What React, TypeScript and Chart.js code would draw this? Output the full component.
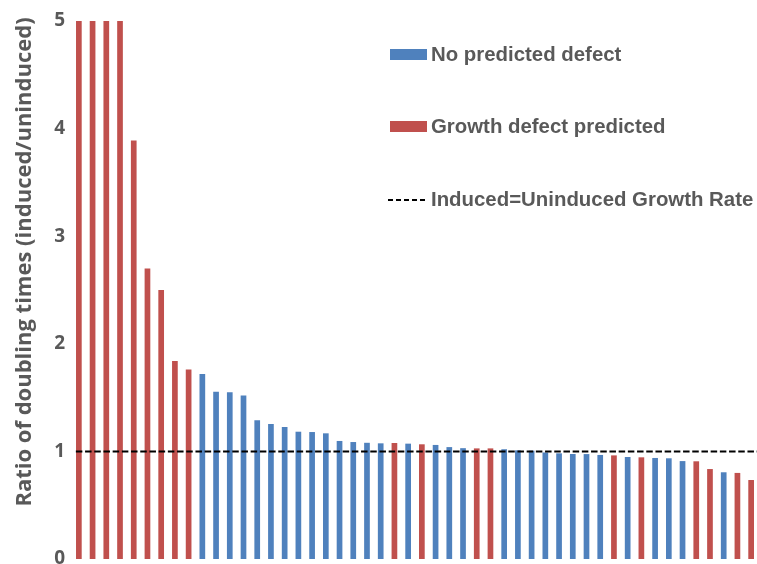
import React, { useEffect, useRef } from "react";
import { Chart, registerables } from "chart.js";

Chart.register(...registerables);

// ---- Data ----
const categories = [
  "1", "2", "3", "4", "5", "6", "7", "8", "9", "10",
  "11", "12", "13", "14", "15", "16", "17", "18", "19", "20",
  "21", "22", "23", "24", "25", "26", "27", "28", "29", "30",
  "31", "32", "33", "34", "35", "36", "37", "38", "39", "40",
  "41", "42", "43", "44", "45", "46", "47", "48", "49", "50",
];

const ratios = [
  5, 5, 5, 5, 3.89, 2.7, 2.5, 1.84, 1.76, 1.72,
  1.555, 1.55, 1.52, 1.29, 1.255, 1.227, 1.183, 1.18, 1.168, 1.097,
  1.087, 1.08, 1.075, 1.078, 1.072, 1.066, 1.06, 1.04, 1.03, 1.028,
  1.028, 1.02, 1.01, 1.007, 0.99, 0.982, 0.976, 0.975, 0.967, 0.963,
  0.948, 0.945, 0.939, 0.936, 0.91, 0.908, 0.836, 0.806, 0.8, 0.734,
];

// 1 = growth defect predicted, 0 = no predicted defect
const defectPredicted = [
  1, 1, 1, 1, 1, 1, 1, 1, 1, 0,
  0, 0, 0, 0, 0, 0, 0, 0, 0, 0,
  0, 0, 0, 1, 0, 1, 0, 0, 0, 1,
  1, 0, 0, 0, 0, 0, 0, 0, 0, 1,
  0, 1, 0, 0, 0, 1, 1, 0, 1, 1,
];

const yTickValues = [0, 1, 2, 3, 4, 5];
const referenceRatio = 1;

const seriesNames = ["No predicted defect", "Growth defect predicted"];
const referenceLabel = "Induced=Uninduced Growth Rate";
const axisTitle = "Ratio of doubling times (induced/uninduced)";

// ---- Styles ----
const BLUE = "#4F81BD";
const RED = "#C0504D";
const TEXT = "#595959";

const overlayPlugin = {
  id: "overlay",
  afterDatasetsDraw(chart: any) {
    const { ctx, chartArea, scales } = chart;
    const y = scales.y.getPixelForValue(referenceRatio);
    const x0 = scales.x.getPixelForValue(0) - 3;
    ctx.save();
    ctx.strokeStyle = "#000000";
    ctx.lineWidth = 2;
    ctx.setLineDash([6.5, 2.7]);
    ctx.beginPath();
    ctx.moveTo(x0, y);
    ctx.lineTo(chartArea.right + 5, y);
    ctx.stroke();
    ctx.restore();
  },
  afterDraw(chart: any) {
    const { ctx } = chart;
    ctx.save();
    // legend
    ctx.font = "bold 20.4px 'Liberation Sans', Arial, sans-serif";
    ctx.textAlign = "left";
    ctx.textBaseline = "alphabetic";
    ctx.fillStyle = BLUE;
    ctx.fillRect(390, 49, 37, 11);
    ctx.fillStyle = TEXT;
    ctx.fillText(seriesNames[0], 431, 61);

    ctx.fillStyle = RED;
    ctx.fillRect(390, 121, 37, 11);
    ctx.fillStyle = TEXT;
    ctx.fillText(seriesNames[1], 431, 132.5);

    ctx.strokeStyle = "#000000";
    ctx.lineWidth = 2;
    ctx.setLineDash([5, 3]);
    ctx.beginPath();
    ctx.moveTo(388, 200);
    ctx.lineTo(428, 200);
    ctx.stroke();
    ctx.setLineDash([]);
    ctx.fillText(referenceLabel, 431, 206);

    // y-axis title
    ctx.translate(31, 262);
    ctx.rotate(-Math.PI / 2);
    ctx.textAlign = "center";
    ctx.font = "bold 22px 'Open Sans', Lato, sans-serif";
    ctx.fillStyle = TEXT;
    ctx.fillText(axisTitle, 0, 0);
    ctx.restore();
  },
};

export default function App() {
  const canvasRef = useRef<HTMLCanvasElement | null>(null);

  useEffect(() => {
    const canvas = canvasRef.current;
    if (!canvas) return;
    const noDefect = ratios.map((v, i) => (defectPredicted[i] ? null : v));
    const defect = ratios.map((v, i) => (defectPredicted[i] ? v : null));

    const chart = new Chart(canvas, {
      type: "bar",
      data: {
        labels: categories,
        datasets: [
          { label: seriesNames[0], data: noDefect, backgroundColor: BLUE, grouped: false } as any,
          { label: seriesNames[1], data: defect, backgroundColor: RED, grouped: false } as any,
        ],
      },
      options: {
        animation: false,
        responsive: false,
        layout: { padding: { top: 21, right: 2, bottom: 21, left: 0 } },
        datasets: {
          bar: { barPercentage: 0.415, categoryPercentage: 1 },
        } as any,
        plugins: {
          legend: { display: false },
          tooltip: { enabled: false },
        },
        scales: {
          x: {
            display: false,
            offset: true,
          },
          y: {
            min: 0,
            max: 5,
            afterFit(scale: any) {
              scale.width = 72;
            },
            afterBuildTicks(scale: any) {
              scale.ticks = yTickValues.map((v) => ({ value: v }));
            },
            grid: { display: false, drawTicks: false },
            border: { display: false },
            ticks: {
              padding: 7,
              color: TEXT,
              font: { family: "'Open Sans', Lato, sans-serif", size: 19, weight: "bold" },
            },
          },
        },
      },
      plugins: [overlayPlugin],
    });
    return () => chart.destroy();
  }, []);

  return (
    <div
      style={{
        position: "fixed",
        left: 0,
        top: 0,
        width: 757,
        height: 564,
        overflow: "hidden",
        background: "#ffffff",
      }}
    >
      <canvas ref={canvasRef} width={760} height={580} style={{ width: 760, height: 580, display: "block" }} />
    </div>
  );
}
